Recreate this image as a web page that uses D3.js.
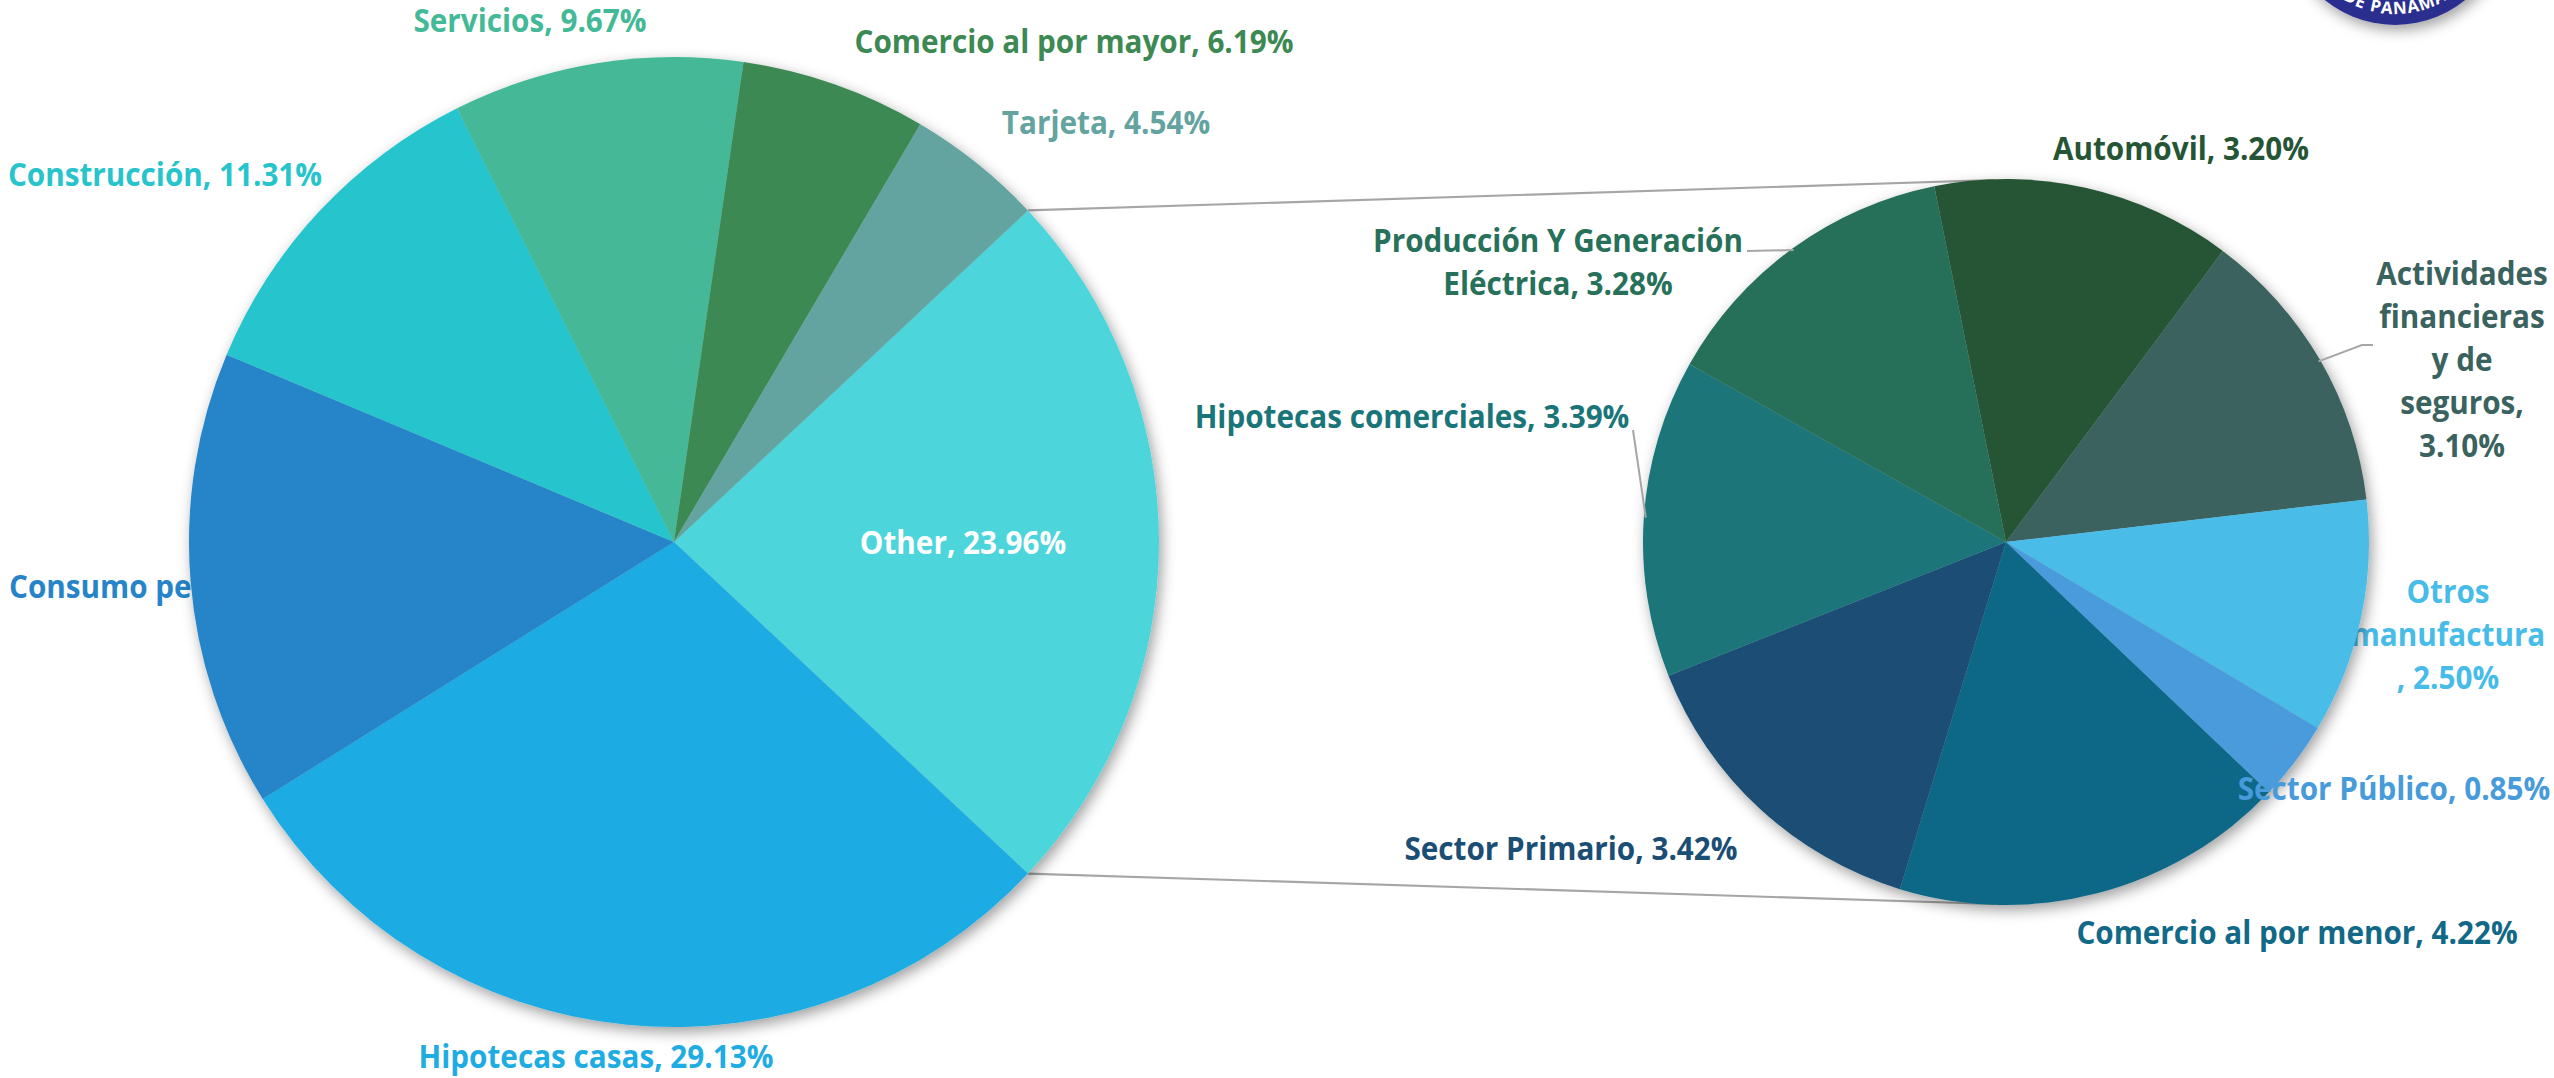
<!DOCTYPE html>
<html>
<head>
<meta charset="utf-8">
<script src="https://cdn.jsdelivr.net/npm/d3@7"></script>
<style>
  html, body { margin: 0; padding: 0; background: #ffffff; overflow: hidden; }
  svg { display: block; }
  text { font-family: "Open Sans", "Noto Sans", sans-serif; font-weight: 700; }
</style>
</head>
<body>
<svg id="chart" width="2554" height="1078"></svg>
<script>
// ---------- DATA ----------
const mainCategories = ["Other", "Hipotecas casas", "Consumo personal", "Construcción", "Servicios", "Comercio al por mayor", "Tarjeta"];
const mainValues = [23.96, 29.13, 15.20, 11.31, 9.67, 6.19, 4.54];

const subCategories = ["Automóvil", "Actividades financieras y de seguros", "Otros manufactura", "Sector Público",
  "Comercio al por menor", "Sector Primario", "Hipotecas comerciales", "Producción Y Generación Eléctrica"];
const subValues = [3.20, 3.10, 2.50, 0.85, 4.22, 3.42, 3.39, 3.28];

// ---------- STYLE / LAYOUT ----------
const mainColors = ["#4DD5DC", "#1EACE3", "#2784C8", "#28C4CC", "#44B997", "#3D8953", "#63A3A0"];
const subColors = ["#255535", "#3A625E", "#48BCE8", "#489BDB", "#116887", "#1A4E74", "#1A7579", "#27705A"];

const main = { cx: 674, cy: 542, r: 485 };
const sub = { cx: 2006, cy: 542, r: 363, start: -11.4 * Math.PI / 180 };
const FS = 33, SX = 0.9, LH = 43;

// label layout: x, y (first baseline), anchor, color override, line breaks, drawn under pie?
const mainLabelLayout = {
  "Other": { x: 963, y: 554, color: "#ffffff" },
  "Hipotecas casas": { x: 596, y: 1068 },
  "Consumo personal": { x: 9, y: 598, anchor: "start", under: true },
  "Construcción": { x: 165, y: 186 },
  "Servicios": { x: 530, y: 32 },
  "Comercio al por mayor": { x: 1074, y: 53 },
  "Tarjeta": { x: 1106, y: 134 }
};
const subLabelLayout = {
  "Automóvil": { x: 2181, y: 160 },
  "Actividades financieras y de seguros": { x: 2462, y: 285, breaks: ["Actividades", "financieras", "y de", "seguros,"],
    leader: [[2362, 345], [2373, 345]] },
  "Otros manufactura": { x: 2448, y: 603, breaks: ["Otros", "manufactura"], under: true },
  "Sector Público": { x: 2394, y: 800 },
  "Comercio al por menor": { x: 2297, y: 944 },
  "Sector Primario": { x: 1571, y: 860 },
  "Hipotecas comerciales": { x: 1412, y: 428, leader: [[1633, 430]] },
  "Producción Y Generación Eléctrica": { x: 1558, y: 252, breaks: ["Producción Y Generación"], leader: [[1747, 251]] }
};

const svg = d3.select("#chart");
const defs = svg.append("defs");
const f = defs.append("filter").attr("id", "shadow").attr("x", "-10%").attr("y", "-10%").attr("width", "125%").attr("height", "125%");
f.append("feDropShadow").attr("dx", 3).attr("dy", 5).attr("stdDeviation", 7).attr("flood-color", "#000").attr("flood-opacity", 0.38);

function splitLines(full, breaks) {
  if (!breaks) return [full];
  const lines = [];
  let rest = full;
  breaks.forEach(b => {
    const i = rest.indexOf(b);
    lines.push(rest.slice(0, i + b.length).trim());
    rest = rest.slice(i + b.length);
  });
  lines.push(rest.trim());
  return lines;
}

function drawLabel(layer, name, value, lay, color) {
  const full = name + ", " + value.toFixed(2) + "%";
  const lines = splitLines(full, lay.breaks);
  const t = layer.append("text")
    .attr("transform", `translate(${lay.x},${lay.y}) scale(${SX},1)`)
    .attr("text-anchor", lay.anchor || "middle")
    .attr("font-size", FS)
    .attr("fill", lay.color || color);
  lines.forEach((ln, i) => {
    t.append("tspan").attr("x", 0).attr("y", i * LH).text(ln);
  });
}

const underLayer = svg.append("g");
const lineLayer = svg.append("g");
const pieLayer = svg.append("g");
const overLayer = svg.append("g");

// ---------- MAIN PIE ----------
const otherAngle = mainValues[0] / d3.sum(mainValues) * 2 * Math.PI;
const mainStart = Math.PI / 2 - otherAngle / 2;
const mainPie = d3.pie().sort(null).value(d => d).startAngle(mainStart).endAngle(mainStart + 2 * Math.PI);
const mainArcs = mainPie(mainValues);
const mainArc = d3.arc().innerRadius(0).outerRadius(main.r);

const gMain = pieLayer.append("g").attr("transform", `translate(${main.cx},${main.cy})`).attr("filter", "url(#shadow)");
gMain.selectAll("path").data(mainArcs).join("path")
  .attr("d", mainArc)
  .attr("fill", (d, i) => mainColors[i]);

// ---------- SUB PIE ----------
const subPie = d3.pie().sort(null).value(d => d).startAngle(sub.start).endAngle(sub.start + 2 * Math.PI);
const subArcs = subPie(subValues);
const subArc = d3.arc().innerRadius(0).outerRadius(sub.r);
const gSub = pieLayer.append("g").attr("transform", `translate(${sub.cx},${sub.cy})`).attr("filter", "url(#shadow)");
gSub.selectAll("path").data(subArcs).join("path")
  .attr("d", subArc)
  .attr("fill", (d, i) => subColors[i]);

// ---------- CONNECTOR LINES ----------
const polar = (c, r, a) => [c.cx + r * Math.sin(a), c.cy - r * Math.cos(a)];
const pTop = polar(main, main.r, mainArcs[0].startAngle);
const pBot = polar(main, main.r, mainArcs[0].endAngle);
const line = d3.line();
lineLayer.append("path").attr("d", line([pTop, [sub.cx - 12, sub.cy - sub.r + 1]]))
  .attr("stroke", "#A6A6A6").attr("stroke-width", 2.2).attr("fill", "none");
lineLayer.append("path").attr("d", line([pBot, [sub.cx - 12, sub.cy + sub.r - 1]]))
  .attr("stroke", "#A6A6A6").attr("stroke-width", 2.2).attr("fill", "none");

// leader lines of sub labels
subArcs.forEach((d, i) => {
  const lay = subLabelLayout[subCategories[i]];
  if (!lay.leader) return;
  const mid = (d.startAngle + d.endAngle) / 2;
  const p0 = polar(sub, sub.r - 2, mid);
  overLayer.append("path").attr("d", line([p0, ...lay.leader]))
    .attr("stroke", "#A6A6A6").attr("stroke-width", 2).attr("fill", "none");
});

// ---------- LABELS ----------
mainCategories.forEach((c, i) => {
  const lay = mainLabelLayout[c];
  drawLabel(lay.under ? underLayer : overLayer, c, mainValues[i], lay, mainColors[i]);
});
subCategories.forEach((c, i) => {
  const lay = subLabelLayout[c];
  drawLabel(lay.under ? underLayer : overLayer, c, subValues[i], lay, subColors[i]);
});

// ---------- LOGO (partially visible, top-right) ----------
const logo = svg.append("g").attr("transform", "translate(2395,-86)");
logo.append("circle").attr("r", 111).attr("fill", "#2B2F8F").attr("filter", "url(#shadow)");
const lr = 100, th = 52 * Math.PI / 180;
defs.append("path").attr("id", "logoArc")
  .attr("d", `M ${-lr * Math.sin(th)} ${lr * Math.cos(th)} A ${lr} ${lr} 0 0 0 ${lr * Math.sin(th)} ${lr * Math.cos(th)}`);
logo.append("text").attr("font-size", 17).attr("fill", "#ffffff").attr("letter-spacing", 1)
  .append("textPath").attr("href", "#logoArc").attr("startOffset", "50%").attr("text-anchor", "middle")
  .text("DE PANAMA");
</script>
</body>
</html>
